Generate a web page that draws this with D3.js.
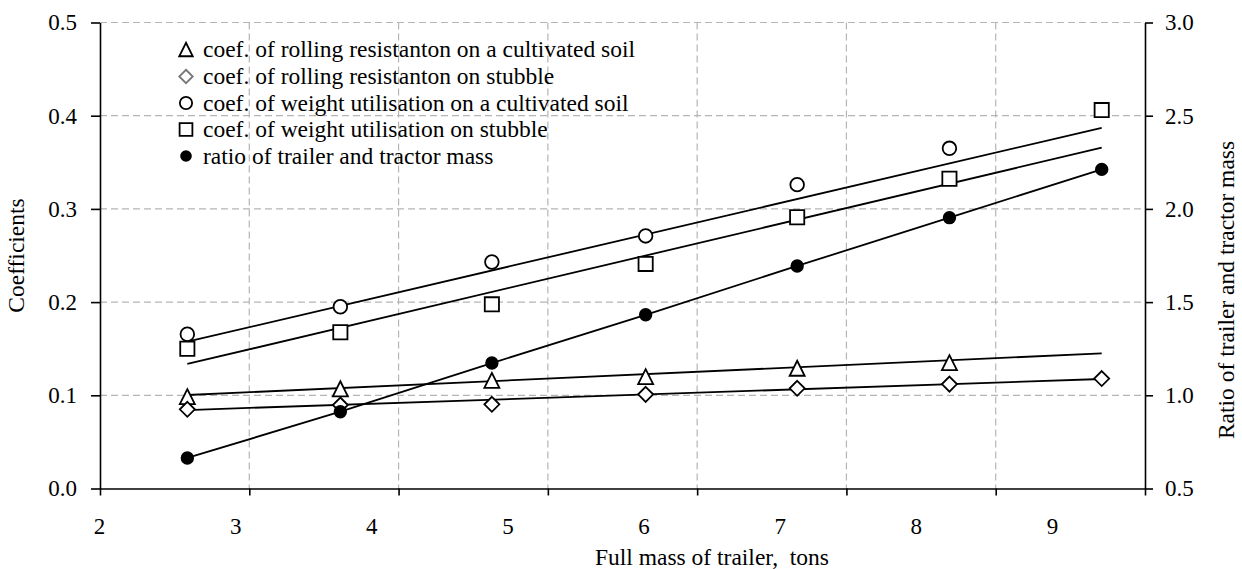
<!DOCTYPE html>
<html lang="en">
<head>
    <meta charset="UTF-8">
    <title>Coefficients vs trailer mass</title>
    <script src="https://d3js.org/d3.v7.min.js"></script>
    <style>
        body { margin: 0; background: #fff; }
        text { font-family: "Liberation Serif", "DejaVu Serif", serif; fill: #000; }
    </style>
</head>
<body>

<div id="chart"></div>

<script>
    // Data
    const massTons = [2.585, 3.61, 4.625, 5.655, 6.67, 7.69, 8.71];
    const rollCultivated = [0.0985, 0.107, 0.116, 0.120, 0.129, 0.135];
    const rollStubble = [0.085, 0.0896, 0.0903, 0.101, 0.1075, 0.112, 0.118];
    const weightCultivated = [0.1655, 0.195, 0.243, 0.271, 0.326, 0.365];
    const weightStubble = [0.150, 0.1676, 0.1976, 0.241, 0.291, 0.3324, 0.406];
    const massRatio = [0.664, 0.912, 1.173, 1.432, 1.694, 1.953, 2.212];

    // trend lines (start and end value, at first and last mass)
    const trendMass = [2.585, 8.71];
    const trendRollCultivated = [0.1003, 0.145];
    const trendRollStubble = [0.0842, 0.1175];
    const trendWeightCultivated = [0.1575, 0.387];
    const trendWeightStubble = [0.1336, 0.3657];

    const xTicks = [2, 3, 4, 5, 6, 7, 8, 9];
    const yLeftTicks = [0, 0.1, 0.2, 0.3, 0.4, 0.5];
    const yRightTicks = [0.5, 1.0, 1.5, 2.0, 2.5, 3.0];

    const legendLabels = [
        "coef. of rolling resistanton on a cultivated soil",
        "coef. of rolling resistanton on stubble",
        "coef. of weight utilisation on a cultivated soil",
        "coef. of weight utilisation on stubble",
        "ratio of trailer and tractor mass"
    ];

    const width = 1242, height = 569;
    const margin = { top: 22.5, right: 97, bottom: 80.5, left: 100 };
    const innerW = width - margin.left - margin.right;
    const innerH = height - margin.top - margin.bottom;

    const svg = d3.select("#chart")
        .append("svg")
        .attr("width", width)
        .attr("height", height);

    const g = svg.append("g")
        .attr("transform", "translate(" + margin.left + "," + margin.top + ")");

    const xScale = d3.scaleLinear().domain([2, 9]).range([0, innerW]);
    // the printed labels sit off the tick marks in the original
    const xLabelScale = d3.scaleLinear().domain([2, 9]).range([-1, 952]);
    const yLeft = d3.scaleLinear().domain([0, 0.5]).range([innerH, 0]);
    const yRight = d3.scaleLinear().domain([0.5, 3.0]).range([innerH, 0]);

    // grid
    const gridColor = "#b5b5b5";
    g.selectAll(".hgrid")
        .data(yLeftTicks.slice(1))
        .enter().append("line")
        .attr("class", "hgrid")
        .attr("x1", 0).attr("x2", innerW)
        .attr("y1", d => yLeft(d)).attr("y2", d => yLeft(d))
        .attr("stroke", gridColor).attr("stroke-width", 1.2)
        .attr("stroke-dasharray", "7,4");

    g.selectAll(".vgrid")
        .data(xTicks.slice(1, -1))
        .enter().append("line")
        .attr("class", "vgrid")
        .attr("x1", d => xScale(d)).attr("x2", d => xScale(d))
        .attr("y1", 0).attr("y2", innerH)
        .attr("stroke", gridColor).attr("stroke-width", 1.2)
        .attr("stroke-dasharray", "7,4");

    // axes
    const tickFont = 23;
    const textFont = 23.5;

    const xAxis = g.append("g")
        .attr("transform", "translate(0," + innerH + ")")
        .call(d3.axisBottom(xScale).tickValues(xTicks).tickSize(7).tickSizeOuter(0).tickFormat(""));

    const xLabels = g.append("g")
        .attr("transform", "translate(0," + innerH + ")")
        .call(d3.axisBottom(xLabelScale).tickValues(xTicks).tickSize(0).tickPadding(29).tickFormat(d3.format("d")));
    xLabels.select(".domain").remove();

    const leftAxis = g.append("g")
        .call(d3.axisLeft(yLeft).tickValues(yLeftTicks).tickSize(9).tickSizeOuter(0).tickPadding(14).tickFormat(d3.format(".1f")));

    const rightAxis = g.append("g")
        .attr("transform", "translate(" + innerW + ",0)")
        .call(d3.axisRight(yRight).tickValues(yRightTicks).tickSize(8).tickSizeOuter(0).tickPadding(12).tickFormat(d3.format(".1f")));

    [xAxis, xLabels, leftAxis, rightAxis].forEach(a => {
        a.selectAll("text").attr("font-size", tickFont).attr("font-family", null);
        a.selectAll("path, line").attr("stroke", "#000").attr("stroke-width", 1.6);
    });

    // axis titles
    svg.append("text")
        .attr("x", 712).attr("y", 565)
        .attr("text-anchor", "middle")
        .attr("font-size", textFont)
        .style("white-space", "pre")
        .text("Full mass of trailer,  tons");

    svg.append("text")
        .attr("transform", "translate(24," + (margin.top + innerH / 2) + ") rotate(-90)")
        .attr("text-anchor", "middle")
        .attr("font-size", textFont)
        .text("Coefficients");

    svg.append("text")
        .attr("transform", "translate(1234,290) rotate(-90)")
        .attr("text-anchor", "middle")
        .attr("font-size", textFont)
        .text("Ratio of trailer and tractor mass");

    // marker shapes
    const triangleType = {
        draw(ctx, size) {
            const s = Math.sqrt(size);
            ctx.moveTo(0, -s / 2);
            ctx.lineTo(s / 2, s / 2);
            ctx.lineTo(-s / 2, s / 2);
            ctx.closePath();
        }
    };
    const diamondType = {
        draw(ctx, size) {
            const r = Math.sqrt(size) / 2;
            ctx.moveTo(0, -r);
            ctx.lineTo(r, 0);
            ctx.lineTo(0, r);
            ctx.lineTo(-r, 0);
            ctx.closePath();
        }
    };
    const squareType = {
        draw(ctx, size) {
            const r = Math.sqrt(size) / 2;
            ctx.rect(-r, -r, 2 * r, 2 * r);
        }
    };
    const circleType = {
        draw(ctx, size) {
            const r = Math.sqrt(size) / 2;
            ctx.moveTo(r, 0);
            ctx.arc(0, 0, r, 0, 2 * Math.PI);
        }
    };

    const series = [
        { values: rollCultivated, trend: trendRollCultivated, scale: yLeft, type: triangleType, size: 15 * 15, fill: "#fff", legendStroke: "#000" },
        { values: rollStubble, trend: trendRollStubble, scale: yLeft, type: diamondType, size: 15 * 15, fill: "#fff", legendStroke: "#777" },
        { values: weightCultivated, trend: trendWeightCultivated, scale: yLeft, type: circleType, size: 13.6 * 13.6, fill: "#fff", legendStroke: "#000" },
        { values: weightStubble, trend: trendWeightStubble, scale: yLeft, type: squareType, size: 14.2 * 14.2, fill: "#fff", legendStroke: "#000" },
        { values: massRatio, trend: null, scale: yRight, type: circleType, size: 11.6 * 11.6, fill: "#000", legendStroke: "#000" }
    ];

    // lines
    const line = d3.line();
    series.forEach(s => {
        let pts;
        if (s.trend) {
            pts = trendMass.map((m, i) => [xScale(m), s.scale(s.trend[i])]);
        } else {
            pts = s.values.map((v, i) => [xScale(massTons[i]), s.scale(v)]);
        }
        g.append("path")
            .attr("d", line(pts))
            .attr("fill", "none")
            .attr("stroke", "#000")
            .attr("stroke-width", 1.8);
    });

    // markers
    series.forEach(s => {
        g.selectAll(null)
            .data(s.values)
            .enter().append("path")
            .attr("d", d3.symbol(s.type, s.size))
            .attr("transform", (d, i) => "translate(" + xScale(massTons[i]) + "," + s.scale(d) + ")")
            .attr("fill", s.fill)
            .attr("stroke", "#000")
            .attr("stroke-width", 1.8);
    });

    // legend
    const legendRows = [49.5, 76.5, 103, 129.5, 156];
    const legend = svg.append("g");
    series.forEach((s, i) => {
        const k = i === 4 ? 0.85 : 0.9;
        legend.append("path")
            .attr("d", d3.symbol(s.type, s.size * k * k))
            .attr("transform", "translate(186," + legendRows[i] + ")")
            .attr("fill", s.fill)
            .attr("stroke", s.legendStroke)
            .attr("stroke-width", 1.8);
        legend.append("text")
            .attr("x", 203)
            .attr("y", legendRows[i] + 7.5)
            .attr("font-size", textFont)
            .text(legendLabels[i]);
    });
</script>

</body>
</html>
